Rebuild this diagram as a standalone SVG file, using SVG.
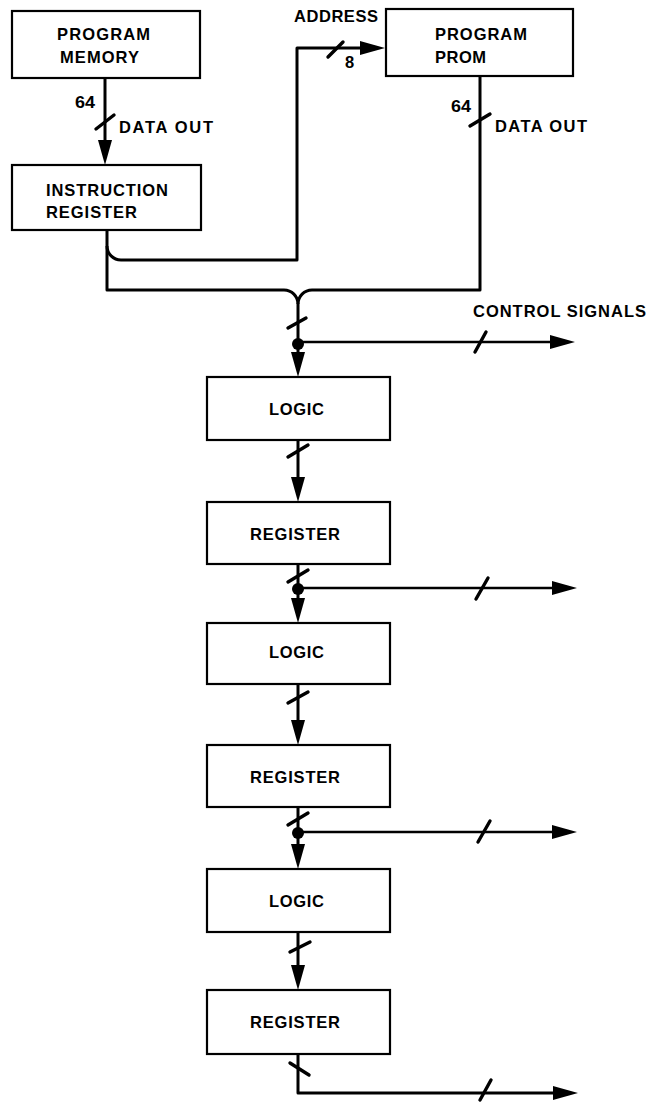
<svg xmlns="http://www.w3.org/2000/svg" width="650" height="1104" viewBox="0 0 650 1104">
  <defs>
    <style>
      .box { fill: #fff; stroke: #000; stroke-width: 2.2; }
      .lbl { font-family: "Liberation Sans", Arial, sans-serif; font-weight: bold; font-size: 16.5px; fill: #000; }
      .wire { fill: none; stroke: #000; stroke-width: 3; stroke-linejoin: round; }
      .thin { fill: none; stroke: #000; stroke-width: 2.6; }
      .tick { fill: none; stroke: #000; stroke-width: 3.4; stroke-linecap: round; }
      .arr { marker-end: url(#head); }
    </style>
    <marker id="head" viewBox="0 0 25 14" markerWidth="25" markerHeight="14" refX="17" refY="7" orient="auto" markerUnits="userSpaceOnUse">
      <path d="M0,0 L25,7 L0,14 z" fill="#000"/>
    </marker>
  </defs>

  <rect width="650" height="1104" fill="#fff"/>

  <!-- connectors -->
  <g id="connectors">
    <!-- program memory to instruction register -->
    <path class="wire arr" d="M105,78 V157"/>
    <line class="tick" x1="96" y1="129" x2="114" y2="115"/>

    <!-- address bus into program PROM -->
    <path class="wire arr" d="M107,246 A14,14 0 0 0 121,260 H297 V48 H377"/>
    <line class="tick" x1="328" y1="57" x2="343" y2="42"/>

    <!-- instruction register and PROM outputs merge into the bus -->
    <path class="wire" d="M107,230 V290 H284 A14,14 0 0 1 298,304"/>
    <path class="wire" d="M480,76 V290 H312 A14,14 0 0 0 298,304"/>
    <line class="tick" x1="470" y1="126" x2="490" y2="114"/>

    <!-- bus into first logic stage -->
    <path class="wire arr" d="M298,304 V369"/>
    <line class="tick" x1="288" y1="328" x2="306" y2="318"/>
    <circle cx="298" cy="344" r="6"/>
    <path class="thin arr" d="M298,342 H567"/>
    <line class="tick" x1="475" y1="352" x2="486" y2="332"/>

    <!-- logic 1 to register 1 -->
    <path class="wire arr" d="M298,440 V494"/>
    <line class="tick" x1="288" y1="457" x2="308" y2="445"/>

    <!-- register 1 to logic 2, with tap -->
    <path class="wire arr" d="M298,564 V615"/>
    <line class="tick" x1="288" y1="582" x2="308" y2="570"/>
    <circle cx="298" cy="589" r="6"/>
    <path class="thin arr" d="M298,588 H569"/>
    <line class="tick" x1="476" y1="599" x2="488" y2="578"/>

    <!-- logic 2 to register 2 -->
    <path class="wire arr" d="M298,684 V737"/>
    <line class="tick" x1="288" y1="703" x2="308" y2="692"/>

    <!-- register 2 to logic 3, with tap -->
    <path class="wire arr" d="M298,807 V861"/>
    <line class="tick" x1="288" y1="825" x2="308" y2="813"/>
    <circle cx="298" cy="833" r="6"/>
    <path class="thin arr" d="M298,832 H569"/>
    <line class="tick" x1="478" y1="842" x2="490" y2="821"/>

    <!-- logic 3 to register 3 -->
    <path class="wire arr" d="M298,932 V982"/>
    <line class="tick" x1="290" y1="952" x2="310" y2="942"/>

    <!-- register 3 output -->
    <path class="wire arr" d="M298,1054 V1093 H570"/>
    <line class="tick" x1="290" y1="1063" x2="309" y2="1075"/>
    <line class="tick" x1="480" y1="1100" x2="491" y2="1080"/>
  </g>

  <!-- bus labels -->
  <g id="labels">
    <text class="lbl" x="75" y="108" textLength="20" lengthAdjust="spacingAndGlyphs">64</text>
    <text class="lbl" x="119" y="133" textLength="94" lengthAdjust="spacing">DATA OUT</text>
    <text class="lbl" x="294" y="22" textLength="84" lengthAdjust="spacing">ADDRESS</text>
    <text class="lbl" x="345" y="68">8</text>
    <text class="lbl" x="451" y="112" textLength="20" lengthAdjust="spacingAndGlyphs">64</text>
    <text class="lbl" x="495" y="132" textLength="92" lengthAdjust="spacing">DATA OUT</text>
    <text class="lbl" x="473" y="317" textLength="173" lengthAdjust="spacing">CONTROL SIGNALS</text>
  </g>

  <g id="program-memory">
    <rect class="box" x="12" y="11" width="188" height="67"/>
    <text class="lbl" x="57" y="40" textLength="93" lengthAdjust="spacing">PROGRAM</text>
    <text class="lbl" x="60" y="63" textLength="79" lengthAdjust="spacing">MEMORY</text>
  </g>

  <g id="program-prom">
    <rect class="box" x="386" y="9" width="187" height="67"/>
    <text class="lbl" x="435" y="40" textLength="92" lengthAdjust="spacing">PROGRAM</text>
    <text class="lbl" x="435" y="63" textLength="51" lengthAdjust="spacing">PROM</text>
  </g>

  <g id="instruction-register">
    <rect class="box" x="12" y="165" width="189" height="65"/>
    <text class="lbl" x="46" y="196" textLength="122" lengthAdjust="spacing">INSTRUCTION</text>
    <text class="lbl" x="46" y="218" textLength="91" lengthAdjust="spacing">REGISTER</text>
  </g>

  <g id="logic-1">
    <rect class="box" x="207" y="377" width="183" height="63"/>
    <text class="lbl" x="269" y="415" textLength="55" lengthAdjust="spacing">LOGIC</text>
  </g>

  <g id="register-1">
    <rect class="box" x="207" y="502" width="183" height="62"/>
    <text class="lbl" x="250" y="540" textLength="90" lengthAdjust="spacing">REGISTER</text>
  </g>

  <g id="logic-2">
    <rect class="box" x="207" y="623" width="183" height="61"/>
    <text class="lbl" x="269" y="658" textLength="55" lengthAdjust="spacing">LOGIC</text>
  </g>

  <g id="register-2">
    <rect class="box" x="207" y="745" width="183" height="62"/>
    <text class="lbl" x="250" y="783" textLength="90" lengthAdjust="spacing">REGISTER</text>
  </g>

  <g id="logic-3">
    <rect class="box" x="207" y="869" width="183" height="63"/>
    <text class="lbl" x="269" y="907" textLength="55" lengthAdjust="spacing">LOGIC</text>
  </g>

  <g id="register-3">
    <rect class="box" x="207" y="990" width="183" height="64"/>
    <text class="lbl" x="250" y="1028" textLength="90" lengthAdjust="spacing">REGISTER</text>
  </g>
</svg>
